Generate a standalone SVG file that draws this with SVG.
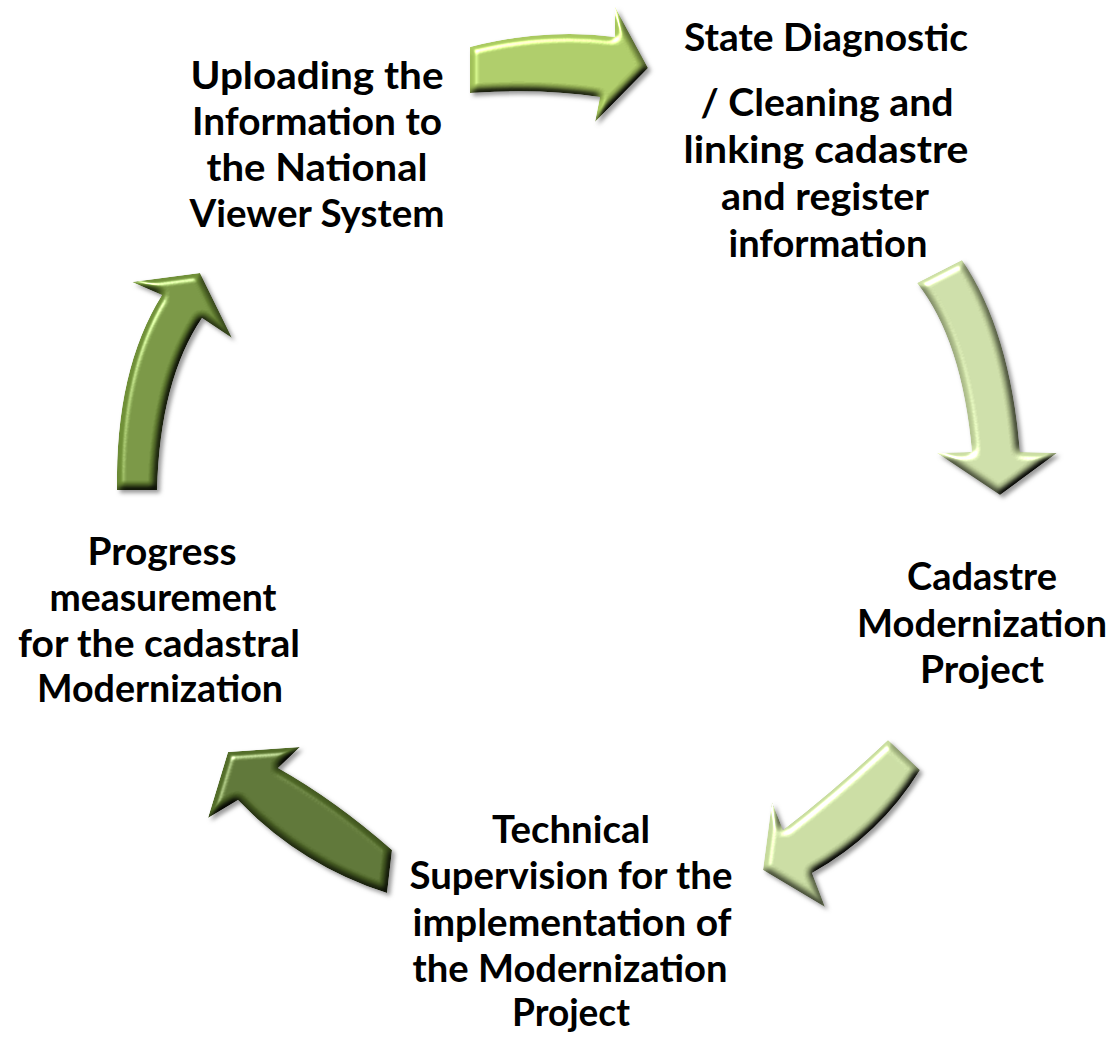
<svg xmlns="http://www.w3.org/2000/svg" width="1119" height="1039" viewBox="0 0 1119 1039">
<style>
  .lbl { font-family: Lato, "Open Sans", "Liberation Sans", sans-serif; font-weight: 700; font-size: 38px; fill: #000; text-anchor: middle; }
  .arr { filter: url(#bev); }
</style>
<defs>
  <filter id="bev" x="-15%" y="-15%" width="135%" height="135%" color-interpolation-filters="sRGB">
    <feGaussianBlur in="SourceAlpha" stdDeviation="3.5" result="b"/>
    <feDiffuseLighting in="b" surfaceScale="5" diffuseConstant="1.2" lighting-color="#ffffff" result="d">
      <feDistantLight azimuth="235" elevation="50"/>
    </feDiffuseLighting>
    <feComposite in="SourceGraphic" in2="d" operator="arithmetic" k1="1" k2="0" k3="0" k4="0" result="lit"/>
    <feSpecularLighting in="b" surfaceScale="5" specularConstant="0.75" specularExponent="35" lighting-color="#ffffff" result="s">
      <feDistantLight azimuth="235" elevation="50"/>
    </feSpecularLighting>
    <feComposite in="s" in2="SourceAlpha" operator="in" result="s2"/>
    <feComposite in="lit" in2="s2" operator="arithmetic" k1="0" k2="1" k3="1" k4="0" result="lit2"/>
    <feComposite in="lit2" in2="SourceAlpha" operator="in" result="lit3"/>
    <feGaussianBlur in="SourceAlpha" stdDeviation="2" result="sb"/>
    <feOffset in="sb" dx="3" dy="3" result="so"/>
    <feFlood flood-color="#333333" flood-opacity="0.5"/>
    <feComposite in2="so" operator="in" result="sh"/>
    <feMerge><feMergeNode in="sh"/><feMergeNode in="lit3"/></feMerge>
  </filter>
</defs>
<rect width="1119" height="1039" fill="#ffffff"/>

<g id="connectors">
  <path id="arrow-1" class="arr" fill="#A8C85E" d="M470,47 Q545,28 615,37 L615,7 L648,68 L595,122 L600,97 Q540,88 470,93 Z"/>
  <path id="arrow-2" class="arr" fill="#CADCA2" d="M917,283 Q962,340 972,452 L937,453 L1000,495 L1057,453 L1020,452 Q1010,330 962,260 Z"/>
  <path id="arrow-3" class="arr" fill="#C6DA9C" d="M888,740 Q835,790 783,830 L772,802 L763,870 L825,907 L812,873 Q880,835 920,770 Z"/>
  <path id="arrow-4" class="arr" fill="#526C28" d="M392,850 Q335,800 278,768 L300,747 L228,752 L208,818 L238,800 Q300,865 387,893 Z"/>
  <path id="arrow-5" class="arr" fill="#6F8F37" d="M117,490 Q115,370 162,295 L132,282 L200,273 L232,338 L202,318 Q160,380 157,490 Z"/>
</g>

<g id="node-upload">
  <text class="lbl" x="317" y="89" textLength="253" lengthAdjust="spacingAndGlyphs">Uploading the</text>
  <text class="lbl" x="317" y="135" textLength="250" lengthAdjust="spacingAndGlyphs">Information to</text>
  <text class="lbl" x="317" y="181" textLength="221" lengthAdjust="spacingAndGlyphs">the National</text>
  <text class="lbl" x="317" y="227" textLength="255" lengthAdjust="spacingAndGlyphs">Viewer System</text>
</g>

<g id="node-diagnostic">
  <text class="lbl" x="826" y="51" textLength="284" lengthAdjust="spacingAndGlyphs">State Diagnostic</text>
  <text class="lbl" x="827" y="116" textLength="253" lengthAdjust="spacingAndGlyphs">/ Cleaning and</text>
  <text class="lbl" x="826" y="163" textLength="285" lengthAdjust="spacingAndGlyphs">linking cadastre</text>
  <text class="lbl" x="825" y="210" textLength="208" lengthAdjust="spacingAndGlyphs">and register</text>
  <text class="lbl" x="828" y="257" textLength="199" lengthAdjust="spacingAndGlyphs">information</text>
</g>

<g id="node-cadastre">
  <text class="lbl" x="982" y="590" textLength="150" lengthAdjust="spacingAndGlyphs">Cadastre</text>
  <text class="lbl" x="982" y="637" textLength="250" lengthAdjust="spacingAndGlyphs">Modernization</text>
  <text class="lbl" x="982" y="683" textLength="124" lengthAdjust="spacingAndGlyphs">Project</text>
</g>

<g id="node-supervision">
  <text class="lbl" x="571" y="843" textLength="158" lengthAdjust="spacingAndGlyphs">Technical</text>
  <text class="lbl" x="571" y="889" textLength="323" lengthAdjust="spacingAndGlyphs">Supervision for the</text>
  <text class="lbl" x="572" y="936" textLength="319" lengthAdjust="spacingAndGlyphs">implementation of</text>
  <text class="lbl" x="570" y="982" textLength="315" lengthAdjust="spacingAndGlyphs">the Modernization</text>
  <text class="lbl" x="571" y="1026" textLength="118" lengthAdjust="spacingAndGlyphs">Project</text>
</g>

<g id="node-progress">
  <text class="lbl" x="162" y="565" textLength="149" lengthAdjust="spacingAndGlyphs">Progress</text>
  <text class="lbl" x="163" y="611" textLength="227" lengthAdjust="spacingAndGlyphs">measurement</text>
  <text class="lbl" x="159" y="657" textLength="282" lengthAdjust="spacingAndGlyphs">for the cadastral</text>
  <text class="lbl" x="160" y="702" textLength="246" lengthAdjust="spacingAndGlyphs">Modernization</text>
</g>
</svg>
